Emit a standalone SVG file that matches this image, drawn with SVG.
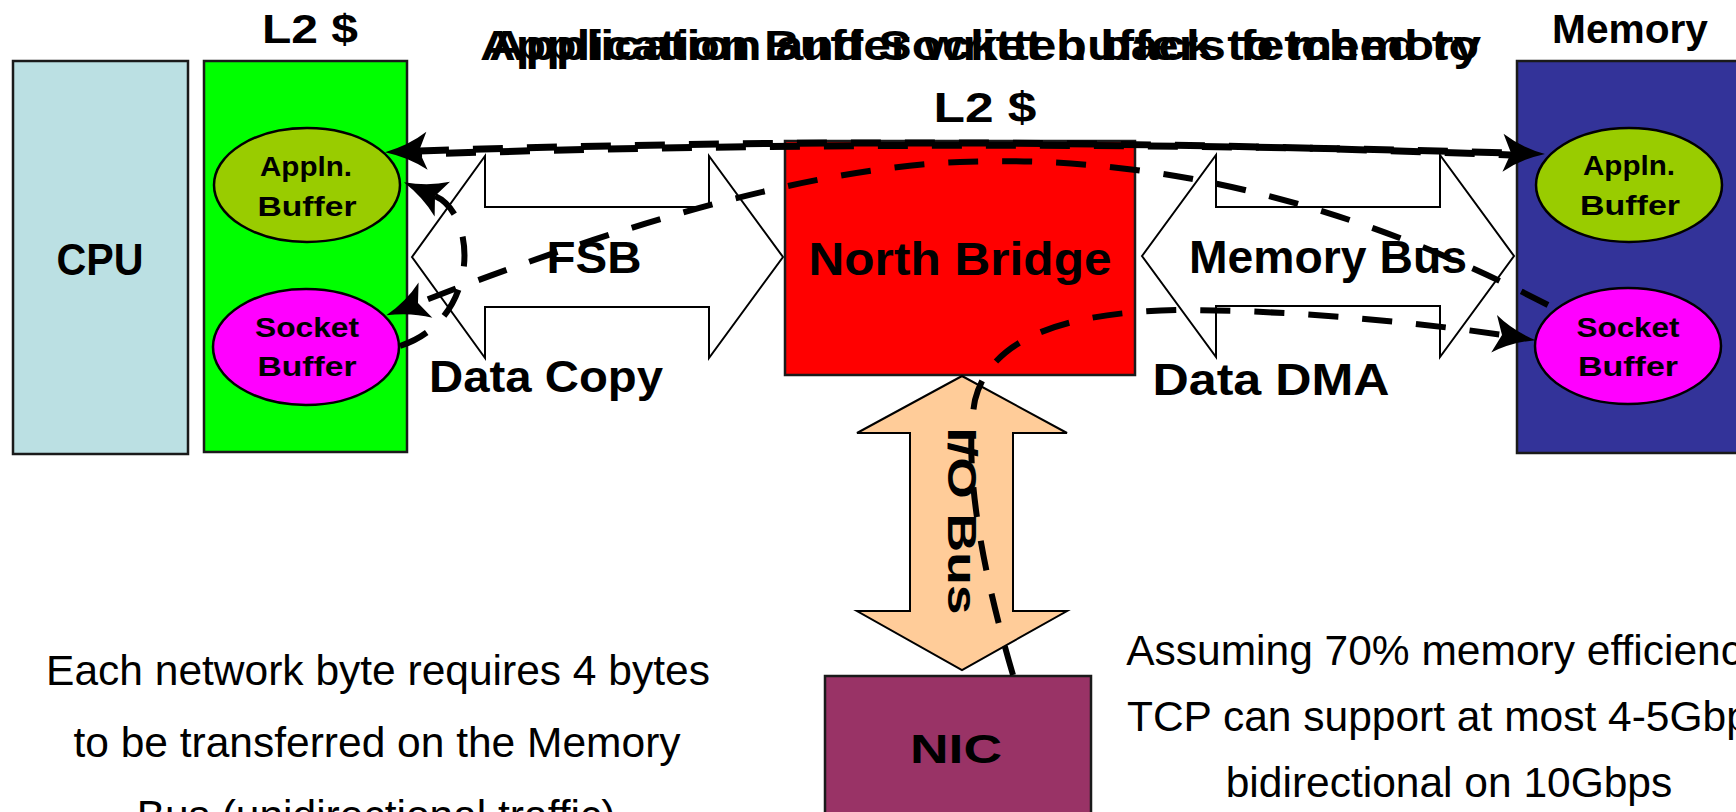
<svg xmlns="http://www.w3.org/2000/svg" width="1736" height="812" viewBox="0 0 1736 812">
<style>
.box{stroke:#1a1a1a;stroke-width:2.5}
.ell{stroke:#000;stroke-width:2.5}
.bus{fill:#fff;stroke:#000;stroke-width:2}
.lbl{font-family:"Liberation Sans",Arial,sans-serif;font-weight:bold;fill:#000;text-anchor:middle}
.note{font-family:"Liberation Sans",Arial,sans-serif;font-size:42.5px;fill:#000;text-anchor:middle}
.con{fill:none;stroke:#000;stroke-width:6;stroke-dasharray:30 24}
.top{stroke-width:7}
</style>
<defs>
<marker id="ah" markerUnits="userSpaceOnUse" markerWidth="48" markerHeight="44" viewBox="-10 -22 48 44" refX="0" refY="0" orient="auto-start-reverse">
<path d="M34,0 Q10,-6 -8,-19 L0,0 L-8,19 Q10,6 34,0 Z" fill="#000"/>
</marker>
</defs>
<rect width="1736" height="812" fill="#fff"/>

<g id="cpu">
<rect class="box" x="13" y="61" width="175" height="393" fill="#bbe0e3"/>
<text class="lbl" x="100" y="275" font-size="44" textLength="87" lengthAdjust="spacingAndGlyphs">CPU</text>
</g>

<g id="l2">
<text class="lbl" x="310" y="43" font-size="40" textLength="96" lengthAdjust="spacingAndGlyphs">L2 $</text>
<rect class="box" x="204" y="61" width="203" height="391" fill="#00ff00"/>
</g>
<g id="l2-appln">
<ellipse class="ell" cx="307" cy="185" rx="93" ry="57" fill="#99cc00"/>
<text class="lbl" x="306" y="176" font-size="27" textLength="92" lengthAdjust="spacingAndGlyphs">Appln.</text>
<text class="lbl" x="307" y="216" font-size="27" textLength="99" lengthAdjust="spacingAndGlyphs">Buffer</text>
</g>
<g id="l2-socket">
<ellipse class="ell" cx="306" cy="347" rx="93" ry="58" fill="#ff00ff"/>
<text class="lbl" x="307" y="337" font-size="27" textLength="104" lengthAdjust="spacingAndGlyphs">Socket</text>
<text class="lbl" x="307" y="376" font-size="27" textLength="99" lengthAdjust="spacingAndGlyphs">Buffer</text>
</g>

<g id="fsb">
<polygon class="bus" points="412,257 485,156 485,207 709,207 709,156 783,257 709,358 709,307 485,307 485,358"/>
<text class="lbl" x="594" y="273" font-size="44" textLength="95" lengthAdjust="spacingAndGlyphs">FSB</text>
<text class="lbl" x="546" y="392" font-size="44" textLength="234" lengthAdjust="spacingAndGlyphs">Data Copy</text>
</g>

<g id="northbridge">
<rect class="box" x="785" y="141" width="350" height="234" fill="#ff0000"/>
<text class="lbl" x="960" y="275" font-size="46" textLength="303" lengthAdjust="spacingAndGlyphs">North Bridge</text>
</g>

<g id="memorybus">
<polygon class="bus" points="1142,256 1216,155 1216,207 1440,207 1440,155 1514,256 1440,357 1440,306 1216,306 1216,357"/>
<text class="lbl" x="1328" y="273" font-size="46" textLength="278" lengthAdjust="spacingAndGlyphs">Memory Bus</text>
<text class="lbl" x="1271" y="395" font-size="44" textLength="237" lengthAdjust="spacingAndGlyphs">Data DMA</text>
</g>

<g id="memory">
<text class="lbl" x="1630" y="43" font-size="40" textLength="156" lengthAdjust="spacingAndGlyphs">Memory</text>
<rect class="box" x="1517" y="61" width="240" height="392" fill="#333399"/>
</g>
<g id="mem-appln">
<ellipse class="ell" cx="1629" cy="185" rx="93" ry="57" fill="#99cc00"/>
<text class="lbl" x="1629" y="175" font-size="27" textLength="92" lengthAdjust="spacingAndGlyphs">Appln.</text>
<text class="lbl" x="1630" y="215" font-size="27" textLength="100" lengthAdjust="spacingAndGlyphs">Buffer</text>
</g>
<g id="mem-socket">
<ellipse class="ell" cx="1628" cy="346" rx="93" ry="58" fill="#ff00ff"/>
<text class="lbl" x="1628" y="337" font-size="27" textLength="103" lengthAdjust="spacingAndGlyphs">Socket</text>
<text class="lbl" x="1628" y="376" font-size="27" textLength="100" lengthAdjust="spacingAndGlyphs">Buffer</text>
</g>

<g id="iobus">
<polygon points="962,376 1067,433 1013,433 1013,611 1067,611 962,670 857,611 910,611 910,433 857,433" fill="#ffcc99" stroke="#000" stroke-width="2"/>
<text class="lbl" font-size="40" textLength="187" lengthAdjust="spacingAndGlyphs" transform="translate(962,521) rotate(90)" x="0" y="14">I/O Bus</text>
</g>

<g id="nic">
<rect class="box" x="825" y="676" width="266" height="150" fill="#993366"/>
<text class="lbl" x="956" y="763" font-size="40" textLength="92" lengthAdjust="spacingAndGlyphs">NIC</text>
</g>

<g id="titles">
<text class="lbl" x="480" y="60" font-size="42" style="text-anchor:start" textLength="1001" lengthAdjust="spacingAndGlyphs">Application Buffer written back to memory</text>
<text class="lbl" x="489" y="60" font-size="42" style="text-anchor:start" textLength="990" lengthAdjust="spacingAndGlyphs">Application and Socket buffers fetched to</text>
<text class="lbl" x="985" y="122" font-size="42" textLength="103" lengthAdjust="spacingAndGlyphs">L2 $</text>
</g>

<g id="notes">
<text class="note" x="378" y="685">Each network byte requires 4 bytes</text>
<text class="note" x="377" y="757">to be transferred on the Memory</text>
<text class="note" x="376" y="830">Bus (unidirectional traffic)</text>
<text class="note" x="1449" y="665">Assuming 70% memory efficiency,</text>
<text class="note" x="1449" y="731">TCP can support at most 4-5Gbps</text>
<text class="note" x="1449" y="797">bidirectional on 10Gbps</text>
</g>

<g id="connectors">
<path class="con top" d="M419,151 Q960,133 1511,155" marker-start="url(#ah)"/>
<path class="con top" d="M419,154 Q960,137 1511,153" style="stroke-dashoffset:27" marker-end="url(#ah)"/>
<path class="con" d="M1548,305 Q1250,150 960,162 Q760,170 418,303" marker-end="url(#ah)"/>
<path class="con" d="M400,346 C480,320 478,215 435,196" marker-end="url(#ah)"/>
<path class="con" d="M1013,675 C985,580 962,470 975,400 C990,340 1060,312 1180,310 C1300,310 1430,324 1502,335" marker-end="url(#ah)"/>
</g>
</svg>
